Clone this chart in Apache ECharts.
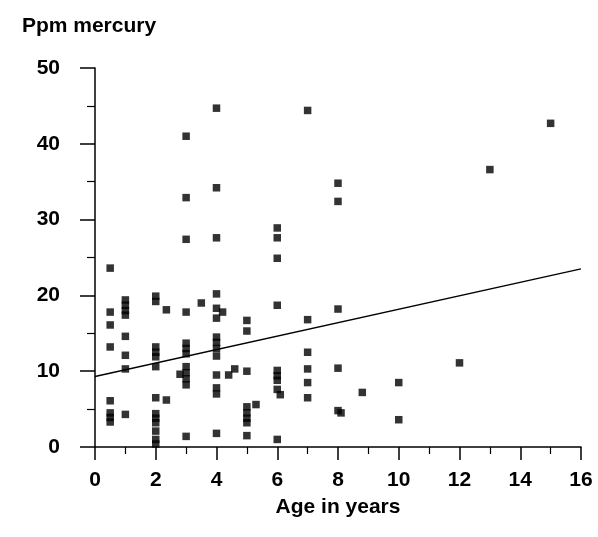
<!DOCTYPE html>
<html>
<head>
<meta charset="utf-8">
<script src="https://cdn.jsdelivr.net/npm/echarts@6/dist/echarts.min.js"></script>
<style>
  html, body { margin: 0; padding: 0; background: #fff; }
  #chart { width: 598px; height: 537px; }
</style>
</head>
<body>
<div id="chart"></div>
<script>
// Age in years (x) for each fish
const ages = [
  0.5, 0.5, 0.5, 0.5, 0.5, 0.5, 0.5, 0.5,
  1, 1, 1, 1, 1, 1, 1, 1,
  2, 2, 2, 2, 2, 2, 2, 2, 2, 2, 2, 2, 2,
  2.35, 2.35,
  2.8,
  3, 3, 3, 3, 3, 3, 3, 3, 3, 3, 3, 3,
  3.5,
  4, 4, 4, 4, 4, 4, 4, 4, 4, 4, 4, 4, 4, 4,
  4.2, 4.4, 4.6,
  5, 5, 5, 5, 5, 5, 5, 5,
  5.3,
  6, 6, 6, 6, 6, 6, 6, 6, 6,
  6.1,
  7, 7, 7, 7, 7, 7,
  8, 8, 8, 8, 8,
  8.1, 8.8,
  10, 10,
  12, 13, 15
];
// Ppm mercury (y) for each fish
const mercury = [
  23.6, 17.8, 16.1, 13.2, 6.1, 4.5, 3.9, 3.3,
  19.4, 18.7, 18.0, 17.4, 14.6, 12.1, 10.3, 4.3,
  19.9, 19.2, 13.2, 12.5, 11.9, 10.6, 6.5, 4.4, 3.8, 3.2, 2.1, 1.0, 0.4,
  18.1, 6.2,
  9.6,
  41.0, 32.9, 27.4, 17.8, 13.7, 13.0, 12.3, 10.6, 9.8, 9.0, 8.2, 1.4,
  19.0,
  44.7, 34.2, 27.6, 20.2, 18.3, 17.0, 14.5, 13.8, 13.0, 12.0, 9.5, 7.8, 7.0, 1.8,
  17.8, 9.5, 10.3,
  16.7, 15.3, 10.0, 5.3, 4.5, 3.8, 3.2, 1.5,
  5.6,
  28.9, 27.6, 24.9, 18.7, 10.1, 9.4, 8.8, 7.6, 1.0,
  6.9,
  44.4, 16.8, 12.5, 10.3, 8.5, 6.5,
  34.8, 32.4, 18.2, 10.4, 4.8,
  4.5, 7.2,
  8.5, 3.6,
  11.1, 36.6, 42.7
];
// Regression line end points
const fitX = [0, 16];
const fitY = [9.3, 23.5];

const xTicks = [0, 2, 4, 6, 8, 10, 12, 14, 16];
const yTicks = [0, 10, 20, 30, 40, 50];

const font = '"Liberation Sans", Arial, Helvetica, sans-serif';
const points = ages.map((a, i) => [a, mercury[i]]);
const fitLine = fitX.map((a, i) => [a, fitY[i]]);

const chart = echarts.init(document.getElementById('chart'), null, { renderer: 'canvas' });
chart.setOption({
  backgroundColor: '#ffffff',
  animation: false,
  grid: { left: 95, right: 17, top: 68, bottom: 90, containLabel: false },
  xAxis: {
    type: 'value',
    min: xTicks[0],
    max: xTicks[xTicks.length - 1],
    interval: 2,
    name: 'Age in years',
    nameLocation: 'middle',
    nameGap: 50,
    nameTextStyle: { color: '#000', fontFamily: font, fontWeight: 'bold', fontSize: 21 },
    axisLine: { show: true, onZero: false, lineStyle: { color: '#000', width: 1.5 } },
    axisTick: { show: true, inside: false, length: 13, lineStyle: { color: '#000', width: 1.5 } },
    minorTick: { show: true, splitNumber: 2, length: 7, lineStyle: { color: '#000', width: 1.2 } },
    axisLabel: { color: '#000', fontFamily: font, fontWeight: 'bold', fontSize: 21, margin: 23 },
    splitLine: { show: false }
  },
  yAxis: {
    type: 'value',
    min: yTicks[0],
    max: yTicks[yTicks.length - 1],
    interval: 10,
    name: 'Ppm mercury',
    nameLocation: 'end',
    nameGap: 31,
    nameTextStyle: { color: '#000', fontFamily: font, fontWeight: 'bold', fontSize: 21, align: 'center', padding: [0, 12, 0, 0] },
    axisLine: { show: true, onZero: false, lineStyle: { color: '#000', width: 1.5 } },
    axisTick: { show: true, inside: false, length: 15, lineStyle: { color: '#000', width: 1.5 } },
    minorTick: { show: true, splitNumber: 2, length: 8, lineStyle: { color: '#000', width: 1.2 } },
    axisLabel: { color: '#000', fontFamily: font, fontWeight: 'bold', fontSize: 21, margin: 35 },
    splitLine: { show: false }
  },
  series: [
    {
      type: 'scatter',
      data: points,
      symbol: 'rect',
      symbolSize: 7.5,
      itemStyle: { color: '#000' },
      z: 3
    },
    {
      type: 'line',
      data: fitLine,
      showSymbol: false,
      symbol: 'none',
      lineStyle: { color: '#000', width: 1.3 },
      z: 2
    }
  ]
});
</script>
</body>
</html>
